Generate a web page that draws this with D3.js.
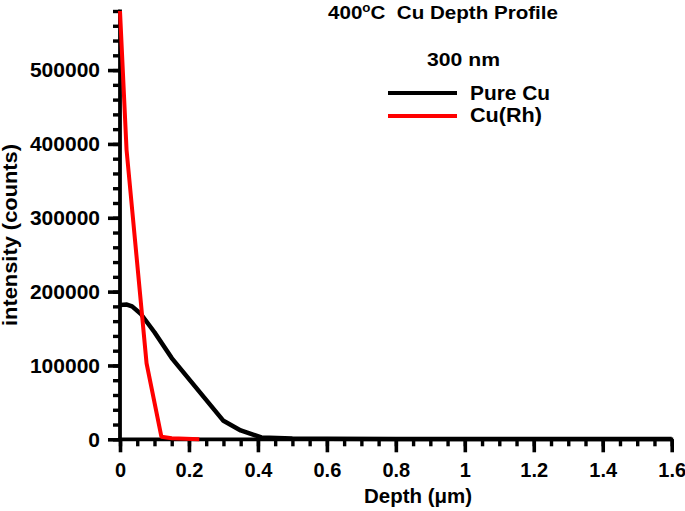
<!DOCTYPE html>
<html>
<head>
<meta charset="utf-8">
<script src="https://cdn.jsdelivr.net/npm/d3@7"></script>
<style>
  html, body { margin: 0; padding: 0; background: #fff; }
  svg text { font-family: "Liberation Sans", Arial, Helvetica, sans-serif; font-weight: bold; fill: #000; }
</style>
</head>
<body>
<svg id="chart" width="685" height="511"></svg>
<script>
// ---- data ----
const xTicks = [0, 0.2, 0.4, 0.6, 0.8, 1, 1.2, 1.4, 1.6];
const yTicks = [0, 100000, 200000, 300000, 400000, 500000];
const depthPureCu = [0, 0.02, 0.035, 0.06, 0.10, 0.15, 0.30, 0.35, 0.41, 0.5, 0.6, 0.8, 1.0, 1.2, 1.4, 1.6];
const pureCu      = [182000, 182500, 180000, 170000, 145000, 110000, 25000, 12000, 2500, 1200, 800, 500, 400, 300, 300, 300];
const depthCuRh   = [0, 0.019, 0.077, 0.12, 0.15, 0.23];
const cuRh        = [580000, 392000, 103000, 3500, 1500, 0];
const seriesNames = ["Pure Cu", "Cu(Rh)"];
const seriesColors = ["#000000", "#ff0000"];

// ---- layout ----
const svg = d3.select("#chart");
const x = d3.scaleLinear().domain([0, 1.6]).range([120, 671.7]);
const y = d3.scaleLinear().domain([0, 580000]).range([439.3, 11]);

const xMinor = d3.range(0, 1.6001, 0.05);
const yMinor = d3.range(0, 580001, 20000);

const gx = svg.append("g").attr("transform", `translate(0,${y(0)})`);
gx.append("g").call(d3.axisBottom(x).tickValues(xMinor).tickSize(7).tickFormat(""))
  .call(g => g.select(".domain").remove())
  .call(g => g.selectAll("line").attr("stroke", "#000").attr("stroke-width", 3.4));
gx.append("g").call(d3.axisBottom(x).tickValues(xTicks).tickSize(13).tickPadding(11).tickFormat(d3.format("")))
  .call(g => g.select(".domain").remove())
  .call(g => g.selectAll("line").attr("stroke", "#000").attr("stroke-width", 3.6))
  .call(g => g.selectAll("text").attr("font-size", 20).attr("font-family", "Liberation Sans, Arial, sans-serif").attr("font-weight", "bold").attr("dy", "0.71em"));

const gy = svg.append("g").attr("transform", `translate(${x(0)},0)`);
gy.append("g").call(d3.axisLeft(y).tickValues(yMinor).tickSize(7).tickFormat(""))
  .call(g => g.select(".domain").remove())
  .call(g => g.selectAll("line").attr("stroke", "#000").attr("stroke-width", 3.4));
gy.append("g").call(d3.axisLeft(y).tickValues(yTicks).tickSize(12).tickPadding(8).tickFormat(d3.format("d")))
  .call(g => g.select(".domain").remove())
  .call(g => g.selectAll("line").attr("stroke", "#000").attr("stroke-width", 3.6))
  .call(g => g.selectAll("text").attr("font-size", 21).attr("font-family", "Liberation Sans, Arial, sans-serif").attr("font-weight", "bold"));

// axis lines
svg.append("line").attr("x1", x(0)).attr("x2", x(0)).attr("y1", y(580000) - 1.5).attr("y2", y(0) + 1.5)
  .attr("stroke", "#000").attr("stroke-width", 3.8);
svg.append("line").attr("x1", x(0) - 1.5).attr("x2", x(1.6) + 1.5).attr("y1", y(0)).attr("y2", y(0))
  .attr("stroke", "#000").attr("stroke-width", 3.8);

// series
const line = d3.line().x(d => x(d[0])).y(d => y(d[1]));
const pureData = depthPureCu.map((d, i) => [d, pureCu[i]]);
const rhData = depthCuRh.map((d, i) => [d, cuRh[i]]);
svg.append("path").datum(pureData).attr("d", line).attr("fill", "none")
  .attr("stroke", seriesColors[0]).attr("stroke-width", 4.5).attr("stroke-linejoin", "round");
svg.append("path").datum(rhData).attr("d", line).attr("fill", "none")
  .attr("stroke", seriesColors[1]).attr("stroke-width", 4).attr("stroke-linejoin", "round");

// axis titles
svg.append("text").attr("x", (363 + 473) / 2).attr("y", 503).attr("text-anchor", "middle")
  .attr("font-size", 20).attr("textLength", 108).attr("lengthAdjust", "spacingAndGlyphs")
  .text("Depth (\u03bcm)");
svg.append("text").attr("transform", `translate(17,${(143 + 327) / 2}) rotate(-90)`).attr("text-anchor", "middle")
  .attr("font-size", 20).attr("textLength", 182).attr("lengthAdjust", "spacingAndGlyphs")
  .text("intensity (counts)");

// title
const title = svg.append("text").attr("x", 328).attr("y", 19).attr("font-size", 18.5)
  .attr("textLength", 230).attr("lengthAdjust", "spacingAndGlyphs").attr("xml:space", "preserve");
title.append("tspan").text("400");
title.append("tspan").attr("dy", -7).attr("font-size", 12).text("o");
title.append("tspan").attr("dy", 7).text("C\u00a0\u00a0Cu Depth Profile");

svg.append("text").attr("x", 427).attr("y", 66).attr("font-size", 18.5)
  .attr("textLength", 73).attr("lengthAdjust", "spacingAndGlyphs").text("300 nm");

// legend
const legY = [93, 116];
const legTextY = [100, 122];
const legW = [80, 72];
seriesNames.forEach((name, i) => {
  svg.append("line").attr("x1", 388).attr("x2", 457).attr("y1", legY[i]).attr("y2", legY[i])
    .attr("stroke", seriesColors[i]).attr("stroke-width", 4);
  svg.append("text").attr("x", 470).attr("y", legTextY[i]).attr("font-size", 20)
    .attr("textLength", legW[i]).attr("lengthAdjust", "spacingAndGlyphs").text(name);
});
</script>
</body>
</html>
